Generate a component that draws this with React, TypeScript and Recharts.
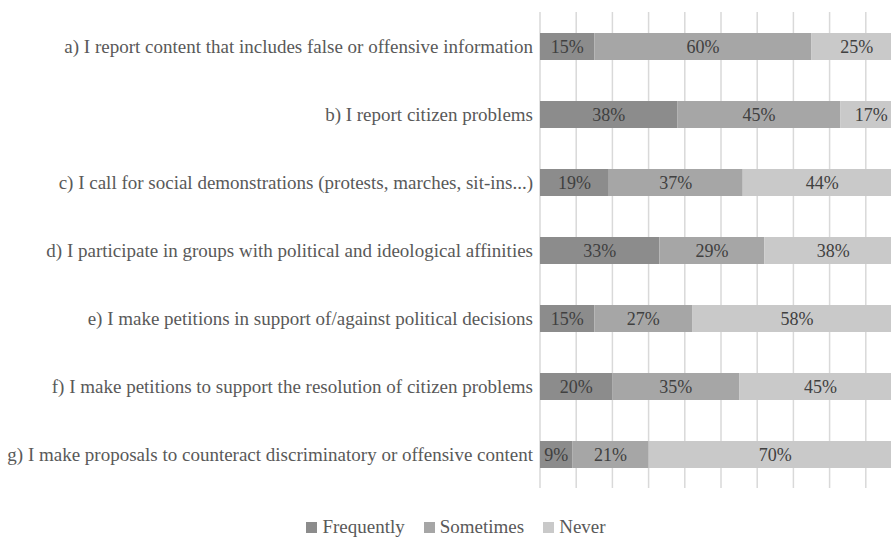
import React from "react";
import {
  Bar,
  BarChart,
  CartesianGrid,
  LabelList,
  Legend,
  XAxis,
  YAxis,
} from "recharts";

// Statements, top to bottom
const statements = [
  "a) I report content that includes false or offensive information",
  "b) I report citizen problems",
  "c) I call for social demonstrations (protests, marches, sit-ins...)",
  "d) I participate in groups with political and ideological affinities",
  "e) I make petitions in support of/against political decisions",
  "f) I make petitions to support the resolution of citizen problems",
  "g) I make proposals to counteract discriminatory or offensive content",
];

// Shares in percent
const frequently = [15, 38, 19, 33, 15, 20, 9];
const sometimes = [60, 45, 37, 29, 27, 35, 21];
const never = [25, 17, 44, 38, 58, 45, 70];

const xTicks = [0, 10, 20, 30, 40, 50, 60, 70, 80, 90, 100];

const data = statements.map((name, i) => ({
  name,
  Frequently: frequently[i],
  Sometimes: sometimes[i],
  Never: never[i],
}));

const FONT = '"Liberation Serif", "Times New Roman", serif';
const TEXT = "#595959";

const series = [
  { key: "Frequently", color: "#8c8c8c" },
  { key: "Sometimes", color: "#a6a6a6" },
  { key: "Never", color: "#c9c9c9" },
];

// something keeps swapping the chart font to a sans, so force it
const css = `
body { margin: 0; }
#survey-chart, #survey-chart * { font-family: ${FONT} !important; }
`;

const StatementTick = (props: any) => {
  const { x, y, payload } = props;
  return (
    <text
      x={x}
      y={y}
      dy="0.35em"
      textAnchor="end"
      fill={TEXT}
      fontFamily={FONT}
      fontSize={19}
    >
      {payload.value}
    </text>
  );
};

const PercentLabel = (props: any) => {
  const { x, y, width, height, value } = props;
  return (
    <text
      x={x + width / 2}
      y={y + height / 2}
      dy="0.35em"
      textAnchor="middle"
      fill="#404040"
      fontFamily={FONT}
      fontSize={18}
    >
      {`${value}%`}
    </text>
  );
};

// legend in the original order, with small square keys
const renderLegend = () => (
  <div
    style={{
      display: "flex",
      justifyContent: "center",
      gap: 19,
      fontSize: 19,
      color: TEXT,
      lineHeight: "20px",
    }}
  >
    {series.map((s) => (
      <span key={s.key} style={{ display: "flex", alignItems: "center" }}>
        <span
          style={{
            display: "inline-block",
            width: 11,
            height: 11,
            background: s.color,
            marginRight: 5,
          }}
        />
        {s.key}
      </span>
    ))}
  </div>
);

const App: React.FC = () => {
  return (
    <div
      id="survey-chart"
      style={{
        width: 891,
        height: 538,
        overflow: "hidden",
        position: "relative",
        background: "#fff",
      }}
    >
      <style>{css}</style>
      <BarChart
        width={920}
        height={538}
        data={data}
        layout="vertical"
        margin={{ top: 12, right: 18, left: 0, bottom: 30 }}
      >
        <CartesianGrid
          horizontal={false}
          stroke="#d9d9d9"
          strokeWidth={1.5}
        />
        <XAxis
          type="number"
          domain={[0, 100]}
          ticks={xTicks}
          hide
        />
        <YAxis
          dataKey="name"
          type="category"
          width={540}
          axisLine={false}
          tickLine={false}
          tickMargin={1}
          interval={0}
          tick={<StatementTick />}
        />
        <Legend
          content={renderLegend}
          wrapperStyle={{ left: 0, width: 912, bottom: 1, height: 20 }}
        />
        {series.map((s) => (
          <Bar
            key={s.key}
            dataKey={s.key}
            stackId="a"
            fill={s.color}
            barSize={27}
            isAnimationActive={false}
          >
            <LabelList dataKey={s.key} content={<PercentLabel />} />
          </Bar>
        ))}
      </BarChart>
    </div>
  );
};

export default App;
